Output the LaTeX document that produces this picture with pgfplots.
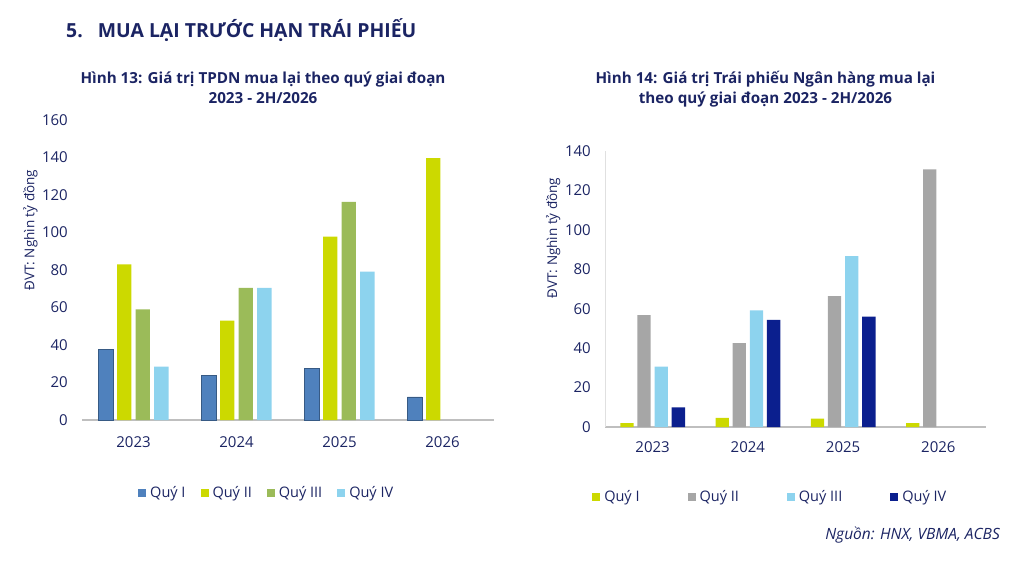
\documentclass[border=0pt]{standalone}
\usepackage{pgfplots}
\pgfplotsset{compat=1.18}
\usepackage{fontspec}
\setmainfont{Open Sans}
\definecolor{navy}{HTML}{1B2463}
\definecolor{lq1}{HTML}{4F81BD}
\definecolor{lime}{HTML}{CCD900}
\definecolor{olive}{HTML}{9BBB59}
\definecolor{sky}{HTML}{8DD3EE}
\definecolor{grayb}{HTML}{A6A6A6}
\definecolor{dnavy}{HTML}{0B1F8E}
\pgfplotsset{
  sq/.style={legend image code/.code={\fill[##1,draw=none] (0pt,-4pt) rectangle (8pt,4pt);}},
  common/.style={
    scale only axis, anchor=south west,
    xmin=-0.5, xmax=3.5, ymin=0,
    xtick={0,1,2,3}, xticklabels={2023,2024,2025,2026},
    axis x line*=bottom, axis y line*=left,
    x axis line style={draw=black!25, line width=1.2pt},
    major tick length=0pt,
    tick label style={font=\fontsize{15}{17}\selectfont, text=navy},
    /pgf/number format/assume math mode=true,
    yticklabel style={inner sep=0pt, xshift=-14pt},
    xticklabel style={inner sep=0pt},
    ylabel style={font=\fontsize{13.5}{15}\selectfont, text=navy, rotate=0},
    legend columns=4,
    legend style={draw=none, fill=none, inner sep=0pt, font=\fontsize{14.5}{16}\selectfont, text=navy,
      nodes={inner sep=0pt}, /tikz/every odd column/.append style={column sep=4pt}},
    bar width=0.14,
    clip=false,
  }
}
\begin{document}
\begin{tikzpicture}
\useasboundingbox (0pt,0pt) rectangle (1024pt,-569pt);
\node[anchor=base west, inner sep=0pt, text=navy, font=\bfseries\fontsize{19.4}{21}\selectfont] at (66pt,-38pt) {5.\hspace{15pt}MUA LẠI TRƯỚC HẠN TRÁI PHIẾU};
\node[anchor=base, inner sep=0pt, text=navy, align=center, font=\bfseries\fontsize{15.2}{20}\selectfont] at (263pt,-103.5pt) {Hình 13: Giá trị TPDN mua lại theo quý giai đoạn\\2023 - 2H/2026};
\node[anchor=base, inner sep=0pt, text=navy, align=center, font=\bfseries\fontsize{15.2}{20}\selectfont] at (765.5pt,-103.5pt) {Hình 14: Giá trị Trái phiếu Ngân hàng mua lại\\theo quý giai đoạn 2023 - 2H/2026};
\node[anchor=base east, inner sep=0pt, text=navy, font=\itshape\fontsize{15.5}{17}\selectfont] at (1000pt,-539pt) {Nguồn: HNX, VBMA, ACBS};

\begin{axis}[common, at={(82pt,-420pt)}, width=412pt, height=300pt,
  ymax=160, ytick={0,20,...,160},
  y axis line style={draw=none},
  xticklabel style={yshift=-16pt},
  ylabel={ĐVT: Nghìn tỷ đồng},
  ylabel style={at={(axis description cs:-0.125,0.633)}, anchor=center},
  legend style={at={(axis description cs:0.136,-0.243)}, anchor=west,
    /tikz/every even column/.append style={column sep=15pt}},
]
\addplot[ybar, sq, bar shift=-0.27, fill=lq1, draw=lq1!70!black, line width=0.6pt] coordinates {(0,37.5) (1,24) (2,27.5) (3,12.3)};
\addlegendentry{Quý I}
\addplot[ybar, sq, bar shift=-0.09, fill=lime, draw=none] coordinates {(0,83) (1,53) (2,97.8) (3,139.7)};
\addlegendentry{Quý II}
\addplot[ybar, sq, bar shift=0.09, fill=olive, draw=none] coordinates {(0,59) (1,70.5) (2,116.3)};
\addlegendentry{Quý III}
\addplot[ybar, sq, bar shift=0.27, fill=sky, draw=none] coordinates {(0,28.5) (1,70.5) (2,79.1)};
\addlegendentry{Quý IV}
\end{axis}

\begin{axis}[common, at={(605pt,-427pt)}, width=381pt, height=276pt,
  ymax=140, ytick={0,20,...,140},
  y axis line style={draw=black!12, line width=1pt},
  xticklabel style={yshift=-14pt},
  ylabel={ĐVT: Nghìn tỷ đồng},
  ylabel style={at={(axis description cs:-0.136,0.685)}, anchor=center},
  legend style={at={(axis description cs:-0.034,-0.254)}, anchor=west,
    /tikz/every even column/.append style={column sep=48pt}},
]
\addplot[ybar, sq, bar shift=-0.27, fill=lime, draw=none] coordinates {(0,2) (1,4.6) (2,4.2) (3,2)};
\addlegendentry{Quý I}
\addplot[ybar, sq, bar shift=-0.09, fill=grayb, draw=none] coordinates {(0,56.7) (1,42.5) (2,66.4) (3,130.7)};
\addlegendentry{Quý II}
\addplot[ybar, sq, bar shift=0.09, fill=sky, draw=none] coordinates {(0,30.6) (1,59.1) (2,86.7)};
\addlegendentry{Quý III}
\addplot[ybar, sq, bar shift=0.27, fill=dnavy, draw=none] coordinates {(0,10) (1,54.3) (2,56)};
\addlegendentry{Quý IV}
\end{axis}
\end{tikzpicture}
\end{document}
